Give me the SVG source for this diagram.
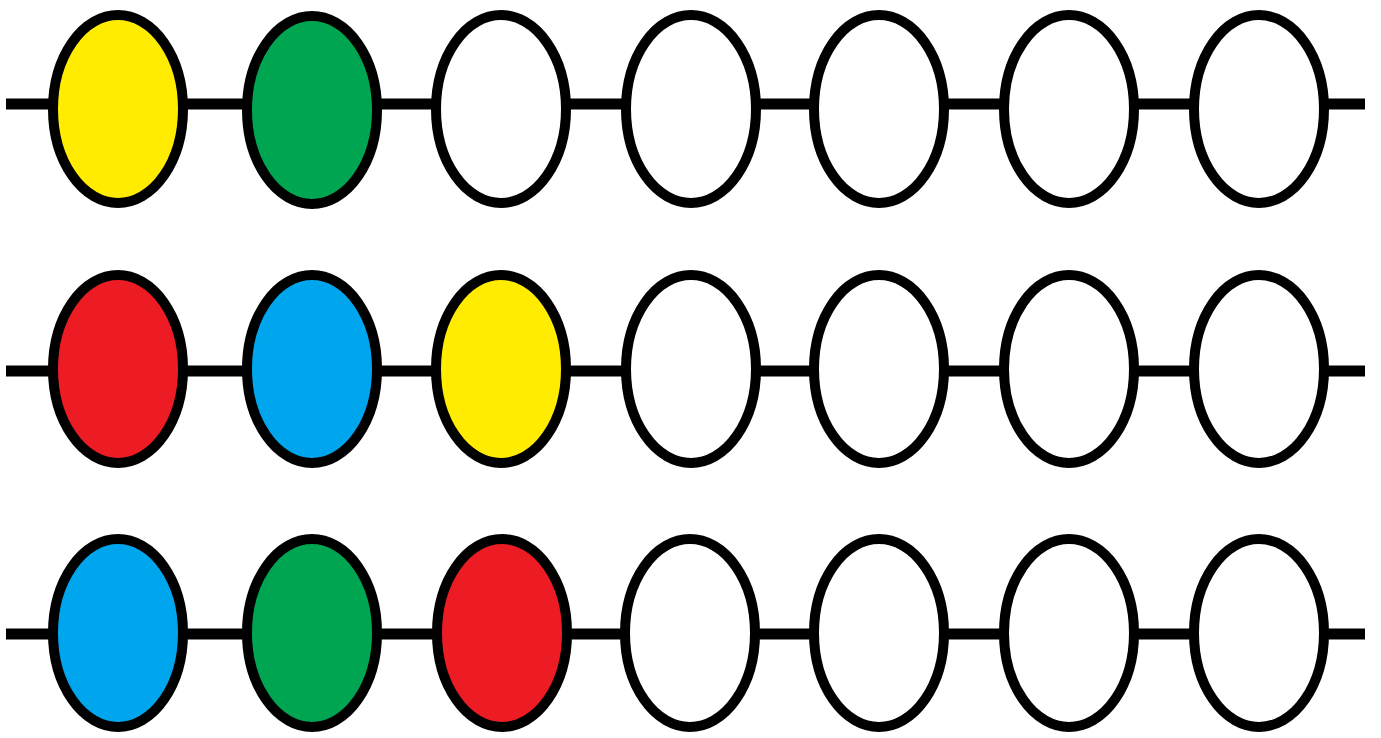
<svg xmlns="http://www.w3.org/2000/svg" width="1381" height="738" viewBox="0 0 1381 738">
<style>
.ln{stroke:#000;stroke-width:11;fill:none}
.n{stroke:#000;stroke-width:10;fill:#fff}
.y{fill:#FFEC00}.g{fill:#00A551}.r{fill:#ED1C24}.b{fill:#00A6ED}
</style>
<rect width="1381" height="738" fill="#fff"/>
<g id="connectors">
<line class="ln" x1="6" y1="104" x2="1365" y2="104"/>
<line class="ln" x1="6" y1="371" x2="1365" y2="371"/>
<line class="ln" x1="6" y1="634" x2="1365" y2="634"/>
</g>
<g id="r1n1"><ellipse class="n y" cx="118" cy="109" rx="65" ry="94"/></g>
<g id="r1n2"><ellipse class="n g" cx="312" cy="110" rx="65" ry="94"/></g>
<g id="r1n3"><ellipse class="n" cx="501" cy="109" rx="65" ry="94"/></g>
<g id="r1n4"><ellipse class="n" cx="691" cy="109" rx="65" ry="94"/></g>
<g id="r1n5"><ellipse class="n" cx="879" cy="109" rx="65" ry="94"/></g>
<g id="r1n6"><ellipse class="n" cx="1069" cy="109" rx="65" ry="94"/></g>
<g id="r1n7"><ellipse class="n" cx="1259" cy="109" rx="65" ry="94"/></g>
<g id="r2n1"><ellipse class="n r" cx="118" cy="369" rx="65" ry="94"/></g>
<g id="r2n2"><ellipse class="n b" cx="312" cy="369" rx="65" ry="94"/></g>
<g id="r2n3"><ellipse class="n y" cx="501" cy="369" rx="65" ry="94"/></g>
<g id="r2n4"><ellipse class="n" cx="691" cy="369" rx="65" ry="94"/></g>
<g id="r2n5"><ellipse class="n" cx="879" cy="369" rx="65" ry="94"/></g>
<g id="r2n6"><ellipse class="n" cx="1069" cy="369" rx="65" ry="94"/></g>
<g id="r2n7"><ellipse class="n" cx="1259" cy="369" rx="65" ry="94"/></g>
<g id="r3n1"><ellipse class="n b" cx="118" cy="633" rx="65" ry="94"/></g>
<g id="r3n2"><ellipse class="n g" cx="312" cy="633" rx="65" ry="94"/></g>
<g id="r3n3"><ellipse class="n r" cx="502" cy="633" rx="65" ry="94"/></g>
<g id="r3n4"><ellipse class="n" cx="690" cy="633" rx="65" ry="94"/></g>
<g id="r3n5"><ellipse class="n" cx="879" cy="633" rx="65" ry="94"/></g>
<g id="r3n6"><ellipse class="n" cx="1069" cy="633" rx="65" ry="94"/></g>
<g id="r3n7"><ellipse class="n" cx="1259" cy="633" rx="65" ry="94"/></g>
</svg>
